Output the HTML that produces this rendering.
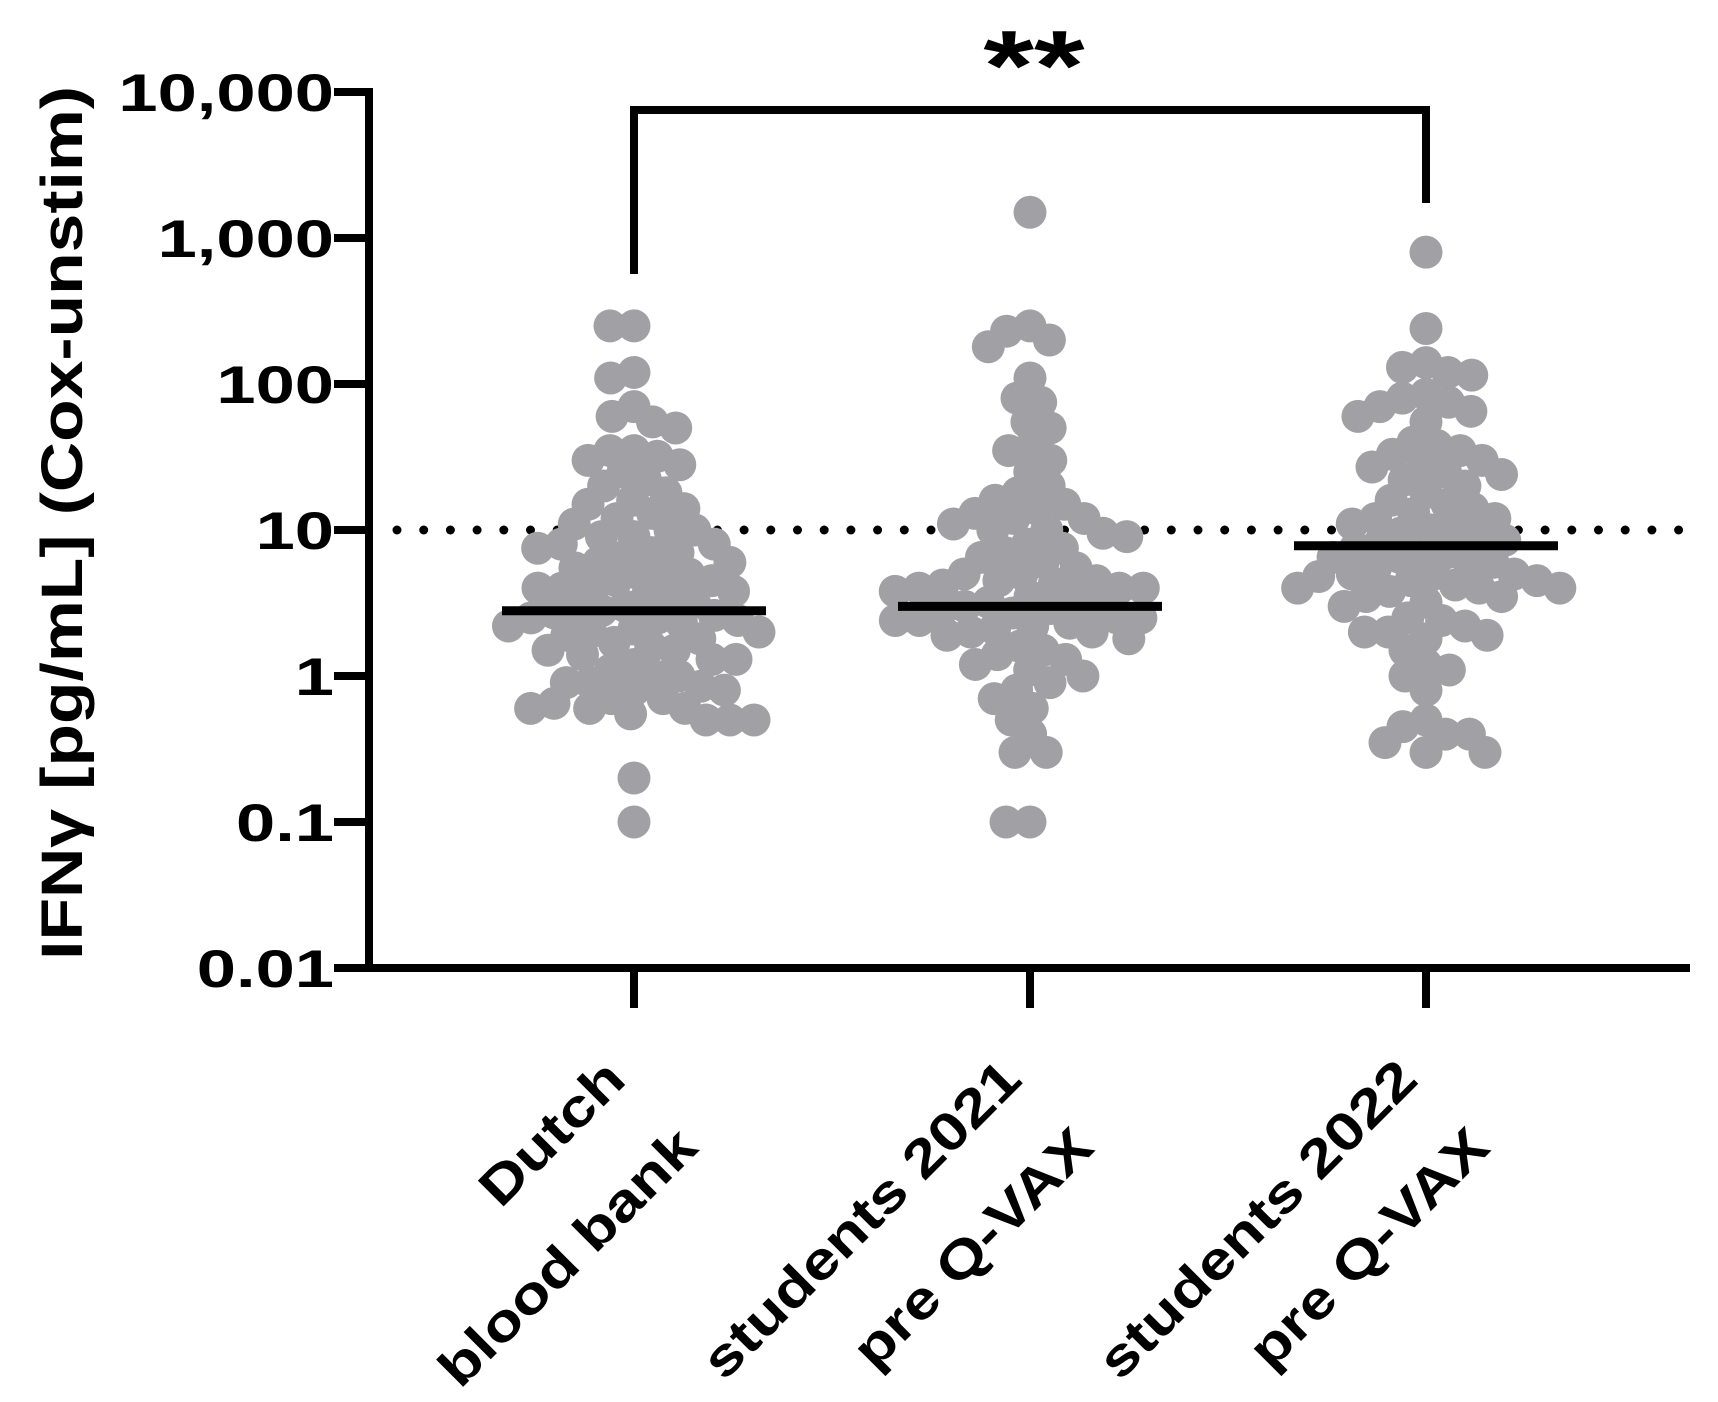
<!DOCTYPE html>
<html><head><meta charset="utf-8">
<style>
html,body{margin:0;padding:0;background:#fff;}
svg{display:block;font-family:"Liberation Sans",sans-serif;font-weight:bold;}
</style></head>
<body>
<svg id="chart" width="1718" height="1402" viewBox="0 0 1718 1402">
</svg>
<script>
const categories = [["Dutch","blood bank"],["students 2021","pre Q-VAX"],["students 2022","pre Q-VAX"]];
const tickValues = [10000,1000,100,10,1,0.1,0.01];
const tickLabels = ["10,000","1,000","100","10","1","0.1","0.01"];
const group1 = [250,250,120,110,70,60,55,50,35,35,32,30,28,25,22,20,18,16,15,14,13,12,11,10,10,9,9,8,8,7.5,7,7,6.5,6,6,5.5,5,5,5,4.5,4.5,4,4,4,3.8,3.5,3.5,3.2,3,3,2.8,2.7,2.6,2.5,2.5,2.4,2.3,2.2,2.1,2,2,1.9,1.8,1.7,1.6,1.5,1.5,1.4,1.3,1.3,1.2,1.1,1,1,0.9,0.9,0.85,0.8,0.8,0.7,0.7,0.65,0.6,0.6,0.6,0.55,0.5,0.5,0.5,0.2,0.1];
const group2 = [1500,250,230,200,180,110,80,75,55,50,38,35,30,25,20,18,16,15,14,13,12,12,11,10,10,9.5,9,8,7.5,7,6.5,6,5.5,5,5,4.5,4.5,4.3,4.2,4,4,4,3.8,3.5,3.4,3.2,3,3,2.9,2.8,2.7,2.5,2.5,2.4,2.4,2.3,2.2,2.1,2,2,1.9,1.8,1.6,1.5,1.4,1.3,1.2,1.1,1,0.9,0.8,0.7,0.6,0.5,0.4,0.3,0.3,0.1,0.1];
const group3 = [800,240,140,130,120,115,85,80,75,70,65,60,55,40,38,35,33,30,28,27,25,24,22,20,18,16,15,14,13,12,12,11,10,10,9.5,9,8.5,8,7.5,7,7,6.5,6.5,6,6,5.5,5,5,5,4.8,4.5,4.5,4.2,4,4,4,3.8,3.5,3.5,3.2,3,2.5,2.4,2.2,2,2,1.9,1.8,1.5,1.2,1.1,1,0.8,0.5,0.45,0.4,0.4,0.35,0.3,0.3];
const medians = [2.8, 3.0, 7.8];
const threshold = 10;
const significance = "**";

const svg = document.getElementById('chart');
const NS = "http://www.w3.org/2000/svg";
const X0 = 369, X1 = 1690, Y0 = 968, DEC = 146;
const yScale = v => Y0 - (Math.log10(v) + 2) * DEC;
const xScale = i => 634 + i * 396;
function el(tag, attrs, parent) {
  const e = document.createElementNS(NS, tag);
  for (const k in attrs) e.setAttribute(k, attrs[k]);
  (parent || svg).appendChild(e);
  return e;
}
function stretch(t, f) {
  const w = t.getComputedTextLength();
  t.setAttribute('textLength', (w * f).toFixed(1));
  t.setAttribute('lengthAdjust', 'spacingAndGlyphs');
}
// dotted threshold line
const dots = el('g', {});


for (let x = X0 + 28; x < X1; x += 26.7) el('circle', {cx: x, cy: yScale(threshold), r: 4.5, fill: '#000'}, dots);

// points
const groups = [group1, group2, group3];
const R = 16.5, D = 24;
groups.forEach((vals, gi) => {
  const g = el('g', {});
  
  
  const placed = [];
  const sorted = vals.slice().sort((a, b) => b - a);
  sorted.forEach(v => {
    const y = yScale(v);
    const cands = [0];
    placed.forEach(p => {
      const dy = Math.abs(p.y - y);
      if (dy < D) { const w = Math.sqrt(D * D - dy * dy); cands.push(p.x - w, p.x + w); }
    });
    cands.sort((a, b) => Math.abs(a) - Math.abs(b));
    let xo = 0;
    for (const c of cands) {
      let ok = true;
      for (const p of placed) { const dx = p.x - c, dy = p.y - y; if (dx * dx + dy * dy < D * D - 0.5) { ok = false; break; } }
      if (ok) { xo = c; break; }
    }
    placed.push({x: xo, y: y});
  });
  placed.forEach(p => {
    const c = el('circle', {cx: xScale(gi) + p.x, cy: p.y, r: R, fill: '#a1a1a5'}, g);
    
    
  });
});
// medians
medians.forEach((m, i) => {
  const l = el('line', {x1: xScale(i) - 132, x2: xScale(i) + 132, y1: yScale(m), y2: yScale(m), stroke: '#000', 'stroke-width': 9});
  
  
});
// axes
const ax = el('g', {});


el('line', {x1: X0, x2: X0, y1: yScale(10000) - 4, y2: Y0 + 4, stroke: '#000', 'stroke-width': 8}, ax);
tickValues.forEach((t, i) => {
  el('line', {x1: X0 - 35, x2: X0, y1: yScale(t), y2: yScale(t), stroke: '#000', 'stroke-width': 8}, ax);
  const tx = el('text', {x: 334, y: yScale(t) + 19, 'text-anchor': 'end', 'font-size': 53, fill: '#000'}, ax);
  tx.textContent = tickLabels[i];
  
  
  stretch(tx, 1.33);
});
const xa = el('g', {});


el('line', {x1: X0 - 4, x2: X1, y1: Y0, y2: Y0, stroke: '#000', 'stroke-width': 8}, xa);
categories.forEach((c, i) => {
  const x = xScale(i);
  el('line', {x1: x, x2: x, y1: Y0, y2: 1008, stroke: '#000', 'stroke-width': 8}, xa);
  const t1 = el('text', {x: x - 6, y: 1082, 'text-anchor': 'end', 'font-size': 53, transform: `rotate(-45 ${x - 6} 1082)`}, xa);
  t1.textContent = c[0];
  
  
  stretch(t1, 1.2);
  const t2 = el('text', {x: x + 66, y: 1150, 'text-anchor': 'end', 'font-size': 53, transform: `rotate(-45 ${x + 66} 1150)`}, xa);
  t2.textContent = c[1];
  
  
  stretch(t2, 1.2);
});
// y title
const yt = el('text', {x: 0, y: 0, 'text-anchor': 'middle', 'font-size': 58, transform: 'translate(82 523) rotate(-90)'});
yt.textContent = "IFNγ [pg/mL] (Cox-unstim)";


stretch(yt, 1.2);
// significance bracket
const br = el('path', {d: `M${xScale(0)} 274 V110 H${xScale(2)} V203`, fill: 'none', stroke: '#000', 'stroke-width': 8});


const st = el('text', {x: 1034, y: 100, 'text-anchor': 'middle', 'font-size': 100, 'font-weight': 'bold'});
st.textContent = significance;


stretch(st, 1.3);
</script>
</body></html>
